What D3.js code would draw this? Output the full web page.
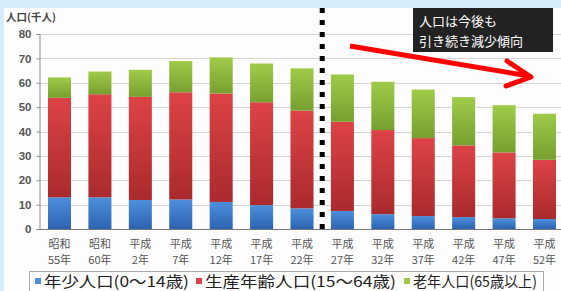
<!DOCTYPE html>
<html>
<head>
<meta charset="utf-8">
<script src="https://cdn.jsdelivr.net/npm/d3@7"></script>
<style>
  body { margin: 0; background: #d6ecfa; }
  svg { display: block; font-family: "Noto Sans CJK JP", sans-serif; }
</style>
</head>
<body>
<script>
// 区分と値(千人)
var eras  = ["昭和","昭和","平成","平成","平成","平成","平成","平成","平成","平成","平成","平成","平成"];
var years = ["55年","60年","2年","7年","12年","17年","22年","27年","32年","37年","42年","47年","52年"];
var young   = [13.0, 13.0, 11.9, 12.1, 11.1, 9.8, 8.5, 7.4, 6.1, 5.3, 4.9, 4.4, 4.1];
var working = [40.8, 42.3, 42.3, 44.0, 44.5, 42.2, 40.1, 36.6, 34.5, 32.0, 29.4, 27.0, 24.3];
var elderly = [8.4, 9.3, 11.1, 12.8, 14.8, 15.9, 17.3, 19.4, 19.8, 19.9, 19.8, 19.4, 18.9];
var yTicks  = [0, 10, 20, 30, 40, 50, 60, 70, 80];
var seriesNames = ["年少人口(0～14歳)", "生産年齢人口(15～64歳)", "老年人口(65歳以上)"];

var W = 561, H = 291;
var svg = d3.select("body").append("svg").attr("width", W).attr("height", H);

// background panel
svg.append("rect").attr("x", 4).attr("y", 8).attr("width", W - 4).attr("height", H - 8).attr("fill", "#fdfdfd");

var rows = years.map(function(y, i) {
  return { key: i, young: young[i], working: working[i], elderly: elderly[i] };
});
var keys = ["young", "working", "elderly"];
var colors = {
  young:   ["#4d8fdc", "#2c63b0"],
  working: ["#dd4346", "#aa2a2d"],
  elderly: ["#9fcb48", "#789f2f"]
};

var defs = svg.append("defs");
keys.forEach(function(k) {
  var g = defs.append("linearGradient").attr("id", "g-" + k).attr("x1", 0).attr("y1", 0).attr("x2", 0).attr("y2", 1);
  g.append("stop").attr("offset", "0%").attr("stop-color", colors[k][0]);
  g.append("stop").attr("offset", "100%").attr("stop-color", colors[k][1]);
});

var x = d3.scaleBand().domain(d3.range(years.length)).range([39.5, 564.5])
  .paddingInner(0.43).paddingOuter(0.21);
var y = d3.scaleLinear().domain([0, 80]).range([229, 34]);

// grid
svg.append("g").selectAll("line").data(yTicks.slice(1)).enter().append("line")
  .attr("x1", 39.5).attr("x2", W).attr("y1", function(d) { return Math.round(y(d)) + 0.5; })
  .attr("y2", function(d) { return Math.round(y(d)) + 0.5; })
  .attr("stroke", "#d4d4d4").attr("stroke-width", 1);

// y axis
var yAxis = d3.axisLeft(y).tickValues(yTicks).tickSize(3).tickPadding(5);
var gy = svg.append("g").attr("transform", "translate(39.5,0)").call(yAxis);
gy.select(".domain").attr("stroke", "#8a8a8a");
gy.selectAll(".tick line").attr("stroke", "#8a8a8a");
gy.selectAll("text").attr("fill", "#555").style("font-size", "11.5px").style("font-weight", "bold")
  .style("font-family", "'Liberation Sans', Arial, sans-serif");

svg.append("text").attr("x", 6).attr("y", 21).attr("fill", "#444")
  .style("font-size", "10.5px").style("font-weight", "bold").text("人口(千人)");

// bars
var stacked = d3.stack().keys(keys)(rows);
svg.append("g").selectAll("g").data(stacked).enter().append("g")
  .attr("fill", function(d) { return "url(#g-" + d.key + ")"; })
  .selectAll("rect").data(function(d) { return d; }).enter().append("rect")
  .attr("x", function(d) { return x(d.data.key); })
  .attr("width", x.bandwidth())
  .attr("y", function(d) { return y(d[1]); })
  .attr("height", function(d) { return y(d[0]) - y(d[1]); });

// x baseline
svg.append("line").attr("x1", 39.5).attr("x2", W).attr("y1", 229.5).attr("y2", 229.5)
  .attr("stroke", "#777").attr("stroke-width", 1.2);

// x labels
var xl = svg.append("g").selectAll("text").data(years).enter().append("text")
  .attr("text-anchor", "middle").attr("fill", "#555").style("font-size", "11px")
  .attr("x", function(d, i) { return x(i) + x.bandwidth() / 2; });
xl.append("tspan").attr("y", 248).attr("x", function(d, i) { return x(i) + x.bandwidth() / 2; })
  .text(function(d, i) { return eras[i]; });
xl.append("tspan").attr("y", 264).attr("x", function(d, i) { return x(i) + x.bandwidth() / 2; })
  .text(function(d) { return d; });

// dotted divider between 22年 and 27年
var divX = x(6) + x.bandwidth() / 2 + x.step() / 2;
svg.append("line").attr("x1", divX).attr("x2", divX).attr("y1", 8).attr("y2", 234)
  .attr("stroke", "#000").attr("stroke-width", 5).attr("stroke-dasharray", "5,7");

// annotation box
svg.append("rect").attr("x", 413).attr("y", 8).attr("width", 140).attr("height", 44).attr("fill", "#222");
svg.append("text").attr("x", 419).attr("y", 26).attr("fill", "#fff").style("font-size", "13px").text("人口は今後も");
svg.append("text").attr("x", 419).attr("y", 46).attr("fill", "#fff").style("font-size", "13px").text("引き続き減少傾向");

// red arrow
svg.append("line").attr("x1", 350).attr("y1", 46).attr("x2", 529).attr("y2", 76)
  .attr("stroke", "#f00").attr("stroke-width", 5);
svg.append("path").attr("d", "M507,61 L531,77 L506,86").attr("fill", "none")
  .attr("stroke", "#f00").attr("stroke-width", 5).attr("stroke-linecap", "round").attr("stroke-linejoin", "round");

// legend
svg.append("rect").attr("x", 29.5).attr("y", 271.5).attr("width", 514).attr("height", 24)
  .attr("fill", "#fff").attr("stroke", "#aaa");
var legX = [35, 196, 404];
var legW = [145, 191, 124];
var lg = svg.append("g").selectAll("g").data(keys).enter().append("g")
  .attr("transform", function(d, i) { return "translate(" + legX[i] + ",0)"; });
lg.append("rect").attr("x", 0).attr("y", 278).attr("width", 6).attr("height", 6)
  .attr("fill", function(d) { return colors[d][0]; });
lg.append("text").attr("x", 9).attr("y", 287).attr("fill", "#222").style("font-size", "15px")
  .attr("textLength", function(d, i) { return legW[i]; }).attr("lengthAdjust", "spacingAndGlyphs")
  .text(function(d, i) { return seriesNames[i]; });
</script>
</body>
</html>
